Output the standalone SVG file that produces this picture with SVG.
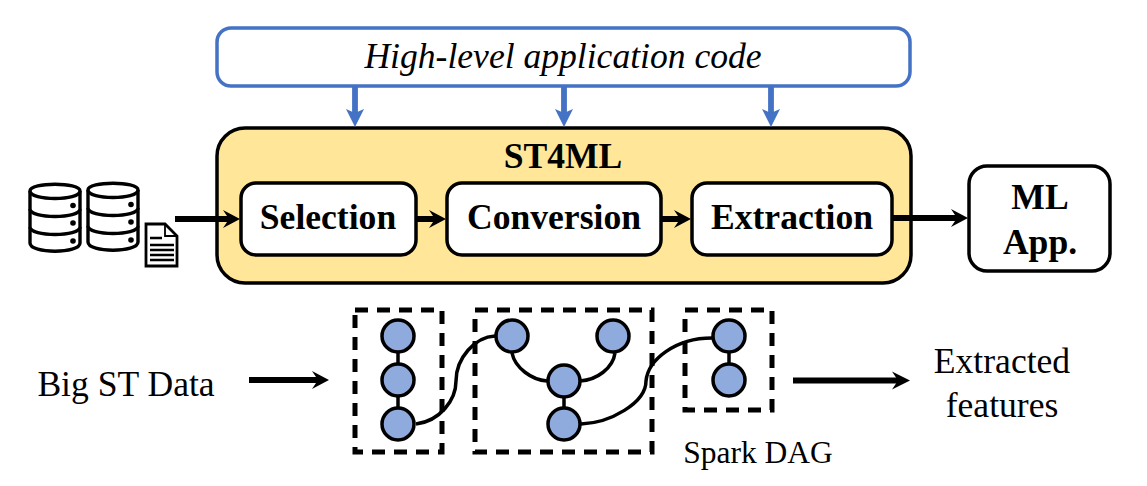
<svg xmlns="http://www.w3.org/2000/svg" width="1147" height="486" viewBox="0 0 1147 486">
<style>
text{font-family:"Liberation Serif","Times New Roman",serif;fill:#000;text-anchor:middle}
.b{font-weight:700;font-size:35.6px}
.r{font-size:35.6px}
.box{fill:#fff;stroke:#000;stroke-width:3.5}
.dash{fill:none;stroke:#000;stroke-width:5;stroke-dasharray:13 9}
.n{fill:#8faadc;stroke:#000;stroke-width:3.5}
.e{fill:none;stroke:#000;stroke-width:3.5}
.k{fill:none;stroke:#000;stroke-width:6.2}
.bl{fill:none;stroke:#4472c4;stroke-width:5.8}
.db{fill:#fff;stroke:#000;stroke-width:3.4}
</style>
<defs>
<g id="cyl">
<path class="db" d="M0 8C0 -1 50 -1 50 8V60C50 71 0 71 0 60Z"/>
<path class="db" d="M0 8C0 18 50 18 50 8M0 26C0 36 50 36 50 26M0 44C0 54 50 54 50 44" fill="none"/>
<circle cx="43" cy="22.500" r="2.800"/><circle cx="43" cy="40" r="2.800"/><circle cx="43" cy="58" r="2.800"/>
</g>
</defs>
<g id="app-code"><rect x="217" y="28" width="693" height="58" rx="14" fill="#fff" stroke="#4472c4" stroke-width="3.500"/>
<text x="563" y="68" font-size="35.600" font-style="italic">High-level application code</text></g>
<g id="st4ml"><rect x="217" y="128" width="694" height="155" rx="28" fill="#ffe699" stroke="#000" stroke-width="3.500"/>
<text class="b" x="563" y="168">ST4ML</text></g>
<g id="selection"><rect class="box" x="241" y="183" width="175" height="72" rx="15"/><text class="b" x="328" y="229">Selection</text></g>
<g id="conversion"><rect class="box" x="447" y="183" width="214" height="72" rx="15"/><text class="b" x="554" y="229">Conversion</text></g>
<g id="extraction"><rect class="box" x="692" y="183" width="200" height="72" rx="15"/><text class="b" x="792" y="229">Extraction</text></g>
<g id="ml-app"><rect class="box" x="969" y="166" width="141" height="105" rx="18"/><text class="b" x="1040" y="209">ML</text><text class="b" x="1040" y="254">App.</text></g>
<g id="data-sources"><use href="#cyl" x="30" y="183"/><use href="#cyl" x="88" y="182"/>
<path d="M146 224H165L177 236V266H146Z" fill="#fff" stroke="#000" stroke-width="2.800"/><path d="M165 224V236H177" fill="none" stroke="#000" stroke-width="1.800"/>
<path d="M150 238H162M150 245H174M150 250H174M150 255H174M150 260H174" stroke="#000" stroke-width="2.500"/></g>
<g id="connectors">
<path class="bl" d="M355 86V116M564 86V116M771 86V116"/>
<path d="M355 127L346 109L355 113L364 109ZM564 127L555 109L564 113L573 109ZM771 127L762 109L771 113L780 109Z" fill="#4472c4"/>
<path class="k" d="M175 219H232M416 219H438M661 219H683M892 218H958M249 380H318M793 380.500H900"/>
<path d="M240 219L223 210L229 219L223 228ZM446 219L429 210L435 219L429 228ZM691 219L674 210L680 219L674 228ZM968 218L951 209L957 218L951 227ZM329 380L312 371L318 380L312 389ZM910 380.500L892 371.500L898 380.500L892 389.500Z"/>
<path class="e" d="M398 338V424M564 381V424M729 338V381M416 424C440 421 456 400 456 381C456 358 475 337 495 336M512 353C515 368 532 380 547 381M580 381C597 380 613 368 615 353M581 424C610 423 646 403 646 381C648 360 675 338 712 338"/>
</g>
<g id="dag-1"><rect class="dash" x="355" y="310" width="87" height="142"/><circle class="n" cx="398" cy="336" r="16"/><circle class="n" cx="398" cy="380" r="16"/><circle class="n" cx="398" cy="424" r="16"/></g>
<g id="dag-2"><rect class="dash" x="475" y="310" width="177" height="142"/><circle class="n" cx="512" cy="336" r="16"/><circle class="n" cx="613" cy="336" r="16"/><circle class="n" cx="564" cy="381" r="16"/><circle class="n" cx="564" cy="424" r="16"/></g>
<g id="dag-3"><rect class="dash" x="685" y="310" width="87" height="100"/><circle class="n" cx="729" cy="336" r="16"/><circle class="n" cx="729" cy="380" r="16"/></g>
<g id="labels">
<text class="r" x="126" y="396">Big ST Data</text>
<text class="r" x="1002" y="373">Extracted</text>
<text class="r" x="1002" y="417">features</text>
<text x="758" y="463" font-size="31.500">Spark DAG</text>
</g>
</svg>
